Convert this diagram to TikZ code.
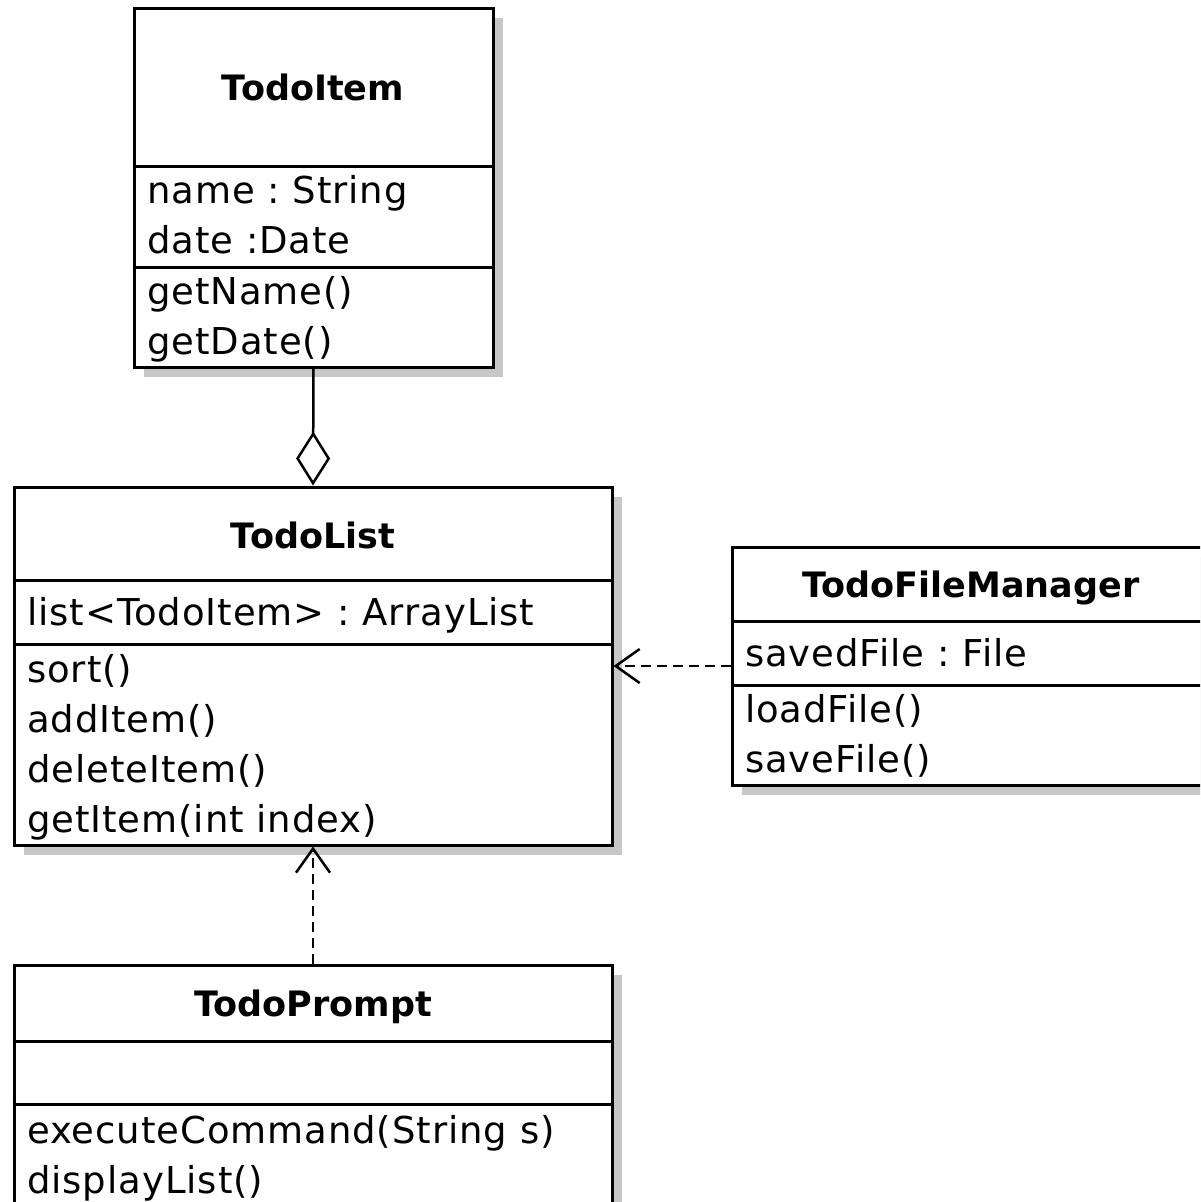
\documentclass[tikz,border=0pt]{standalone}
\usepackage{fontspec}
\setmainfont{DejaVu Sans}
\newfontfamily\memberfont{DejaVu Sans}[LetterSpace=2.5]
\usetikzlibrary{arrows.meta,shadows}

\tikzset{
  classbox/.style={draw=black, line width=3pt, fill=white, inner sep=0pt,
    drop shadow={shadow xshift=10pt, shadow yshift=-10pt, fill=black!22, opacity=1}},
  divider/.style={draw=black, line width=3pt},
  cname/.style={font=\fontsize{35}{40}\selectfont\bfseries, inner sep=0pt, anchor=base},
  member/.style={font=\memberfont\fontsize{37}{44}\selectfont\frenchspacing, inner sep=0pt, anchor=base west},
  aggregation/.style={draw=black, line width=2.5pt,
    -{Diamond[open, fill=white, length=54pt, width=34pt, line width=2.5pt]}},
  dependency/.style={draw=black, line width=2.5pt, dash pattern=on 10pt off 6pt,
    -{Straight Barb[length=24pt, width=34pt, line width=2.5pt]}}
}

\begin{document}
\begin{tikzpicture}[x=1pt, y=-1pt]
  \clip (0,0) rectangle (1200,1202);
  \fill[white] (0,0) rectangle (1200,1202);

  % class boxes
  \node[classbox, minimum width=359pt, minimum height=359pt] (item) at (313.5,187.5) {};
  \node[classbox, minimum width=598pt, minimum height=358pt] (list) at (313,666) {};
  \node[classbox, minimum width=479pt, minimum height=238pt] (fm) at (971.5,666) {};
  \node[classbox, minimum width=598pt, minimum height=260pt] (prompt) at (313,1095) {};

  % compartment lines
  \draw[divider] (item.west |- 0,166) -- (item.east |- 0,166);
  \draw[divider] (item.west |- 0,267) -- (item.east |- 0,267);
  \draw[divider] (list.west |- 0,580) -- (list.east |- 0,580);
  \draw[divider] (list.west |- 0,644) -- (list.east |- 0,644);
  \draw[divider] (fm.west |- 0,621) -- (fm.east |- 0,621);
  \draw[divider] (fm.west |- 0,685) -- (fm.east |- 0,685);
  \draw[divider] (prompt.west |- 0,1041) -- (prompt.east |- 0,1041);
  \draw[divider] (prompt.west |- 0,1104) -- (prompt.east |- 0,1104);

  % TodoItem
  \node[cname] (itemName) at (313,100) {TodoItem};
  \node[member] (itemA1) at (147,203) {name : String};
  \node[member] (itemA2) at (147,253) {date :Date};
  \node[member] (itemM1) at (147,304) {getName()};
  \node[member] (itemM2) at (147,354) {getDate()};

  % TodoList
  \node[cname] (listName) at (313,548) {TodoList};
  \node[member] (listA1) at (27,625) {list<TodoItem> : ArrayList};
  \node[member] (listM1) at (27,682) {sort()};
  \node[member] (listM2) at (27,732) {addItem()};
  \node[member] (listM3) at (27,782) {deleteItem()};
  \node[member] (listM4) at (27,832) {getItem(int index)};

  % TodoFileManager
  \node[cname] (fmName) at (971,597) {TodoFileManager};
  \node[member] (fmA1) at (745,666) {savedFile : File};
  \node[member] (fmM1) at (745,722) {loadFile()};
  \node[member] (fmM2) at (745,772) {saveFile()};

  % TodoPrompt
  \node[cname] (promptName) at (313,1016) {TodoPrompt};
  \node[member] (promptM1) at (27,1143) {executeCommand(String s)};
  \node[member] (promptM2) at (27,1193) {displayList()};

  % relations
  \draw[aggregation] (item.south) -- (list.north);
  \draw[dependency] (fm.west) -- (list.east);
  \draw[dependency] (prompt.north) -- (list.south);
\end{tikzpicture}
\end{document}
